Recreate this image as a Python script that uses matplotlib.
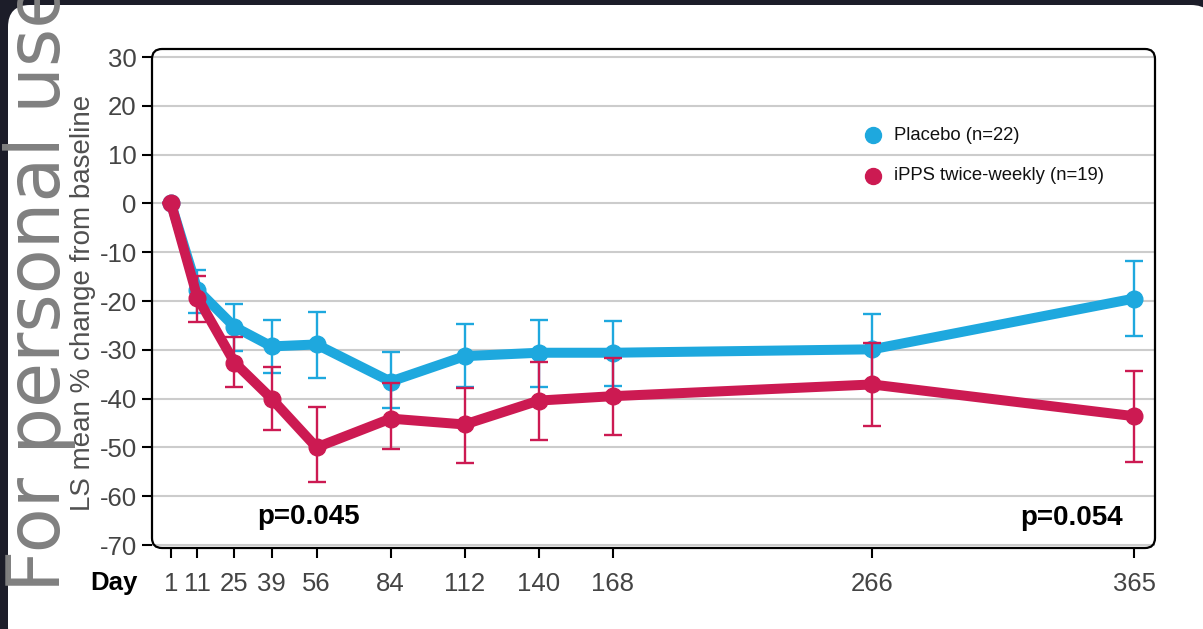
import matplotlib
matplotlib.use("Agg")
import matplotlib.pyplot as plt
from matplotlib.patches import FancyBboxPatch
from matplotlib.lines import Line2D

plt.rcParams['font.family'] = ['Liberation Sans', 'DejaVu Sans']

# ---- data ----
days = [1, 11, 25, 39, 56, 84, 112, 140, 168, 266, 365]
day_labels = ['1', '11', '25', '39', '56', '84', '112', '140', '168', '266', '365']

placebo_mean = [0, -17.7, -25.3, -29.3, -28.9, -36.5, -31.3, -30.6, -30.6, -29.9, -19.5]
placebo_hi   = [0, -13.6, -20.7, -23.8, -22.3, -30.5, -24.8, -23.8, -24.1, -22.7, -11.7]
placebo_lo   = [0, -22.4, -30.3, -34.8, -35.7, -42.0, -37.7, -37.7, -37.4, -37.1, -27.1]

ipps_mean = [0, -19.3, -32.6, -40.0, -50.0, -44.1, -45.3, -40.4, -39.5, -37.1, -43.6]
ipps_hi   = [0, -14.8, -27.3, -33.6, -41.8, -36.9, -37.9, -32.4, -31.6, -28.7, -34.4]
ipps_lo   = [0, -24.4, -37.7, -46.5, -57.1, -50.4, -53.1, -48.4, -47.5, -45.7, -52.9]

y_ticks = [30, 20, 10, 0, -10, -20, -30, -40, -50, -60, -70]
series_labels = ['Placebo (n=22)', 'iPPS twice-weekly (n=19)']
p_texts = ['p=0.045', 'p=0.054']

BLUE = '#1ea8de'
RED = '#cc1a52'

W, H = 1203, 629
fig = plt.figure(figsize=(W / 100, H / 100), dpi=100)
fig.patch.set_facecolor('#1c1d29')

# white rounded panel
panel = FancyBboxPatch((8 / W, -20 / H), (W + 10 - 8) / W, (H + 20 - 5) / H,
                       boxstyle="round,pad=0,rounding_size=%f" % (22 / W),
                       mutation_aspect=W / H, transform=fig.transFigure,
                       facecolor='white', edgecolor='none', zorder=0)
fig.add_artist(panel)

# axes
left, right, top, bottom = 152, 1155, 49, 548
ax = fig.add_axes([left / W, 1 - bottom / H, (right - left) / W, (bottom - top) / H])
ax.set_facecolor('none')
for s in ax.spines.values():
    s.set_visible(False)

ax.set_xlim(-6.18, 372.9)
ax.set_ylim(-70.61, 31.64)

box = FancyBboxPatch((0, 0), 1, 1,
                     boxstyle="round,pad=0,rounding_size=%f" % (10 / (right - left)),
                     mutation_aspect=(right - left) / (bottom - top),
                     transform=ax.transAxes, facecolor='none', edgecolor='black',
                     linewidth=1.6, clip_on=False, zorder=5)
ax.add_patch(box)

ax.set_yticks(y_ticks)
ax.set_yticklabels([str(v) for v in y_ticks])
ax.set_xticks(days)
ax.set_xticklabels(day_labels)
ax.yaxis.grid(True, color='#cccccc', linewidth=1.5, zorder=0)
ax.set_axisbelow(True)
ax.tick_params(axis='y', length=7, width=1.5, color='black', pad=4,
               labelsize=18.5, labelcolor='#444444')
ax.tick_params(axis='x', length=7, width=1.5, color='black', pad=10,
               labelsize=18.5, labelcolor='#444444')

# series
def draw(mean, lo, hi, color, z):
    yerr = [[m - l for m, l in zip(mean, lo)], [h - m for m, h in zip(mean, hi)]]
    ax.errorbar(days, mean, yerr=yerr, fmt='none', ecolor=color, elinewidth=1.7,
                capsize=6.5, capthick=1.7, zorder=z)
    ax.plot(days, mean, color=color, linewidth=7.2, marker='o', markersize=12,
            zorder=z + 0.5, solid_joinstyle='round', solid_capstyle='round')

draw(placebo_mean, placebo_lo, placebo_hi, BLUE, 2)
draw(ipps_mean, ipps_lo, ipps_hi, RED, 3)

# legend (manual)
for (yy, col, lab) in [(135, BLUE, series_labels[0]), (176, RED, series_labels[1])]:
    fig.add_artist(Line2D([873 / W], [1 - yy / H], marker='o', markersize=11.5,
                          color=col, linestyle='none', transform=fig.transFigure))
    fig.text(894 / W, 1 - yy / H, lab, fontsize=13.3, color='#111111',
             ha='left', va='center')

# p-values
fig.text(309 / W, 1 - 517 / H, p_texts[0], fontsize=20, fontweight='bold',
         ha='center', va='center', color='black')
fig.text(1072 / W, 1 - 518 / H, p_texts[1], fontsize=20, fontweight='bold',
         ha='center', va='center', color='black')

# Day label
fig.text(114 / W, 1 - 583 / H, 'Day', fontsize=18.5, fontweight='bold',
         ha='center', va='center', color='black')

# y label
fig.text(83 / W, 1 - 303 / H, 'LS mean % change from baseline', fontsize=20,
         rotation=90, ha='center', va='center', color='#505050')

# watermark
fig.text(60 / W, 1 - 592 / H, 'For personal use', fontsize=53, rotation=90,
         rotation_mode='anchor', ha='left', va='baseline', color='#808080',
         family='DejaVu Sans', zorder=10)

fig.savefig('out.png', dpi=100, facecolor=fig.get_facecolor())
